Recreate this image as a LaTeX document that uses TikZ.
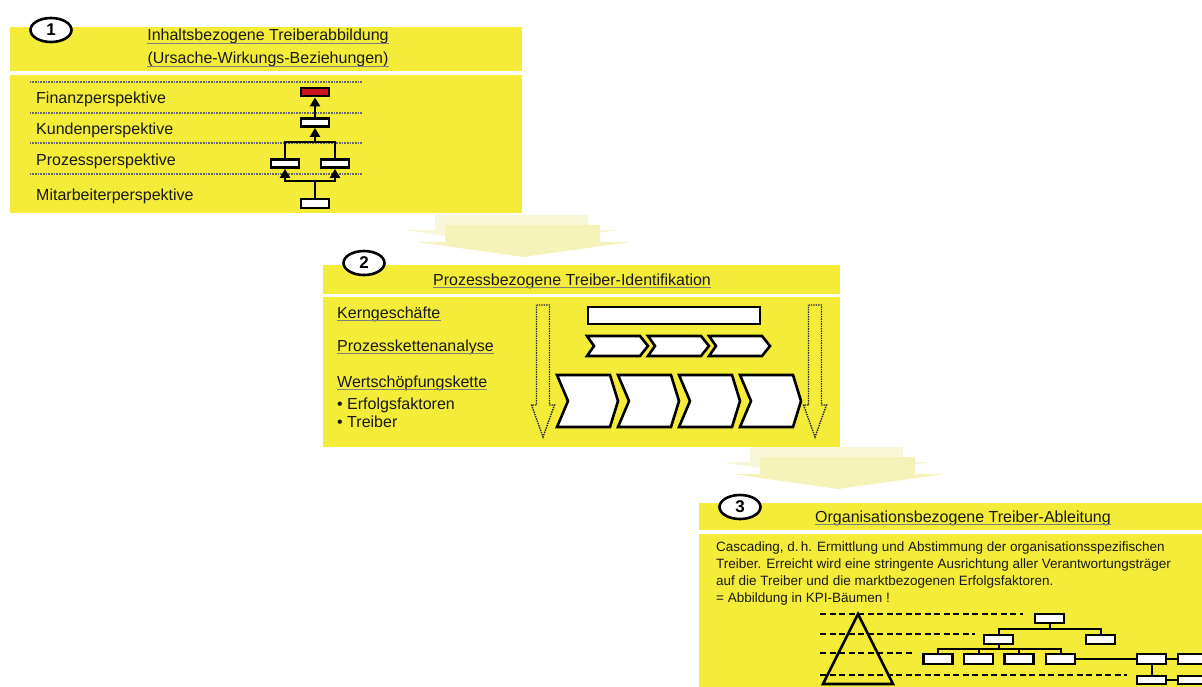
\documentclass[tikz,border=0pt]{standalone}
\usepackage{fontspec}
\setmainfont{Liberation Sans}
\usetikzlibrary{
    arrows.meta,
    shapes.geometric,
    positioning
}
\definecolor{panelyellow}{RGB}{245,236,58}
\definecolor{fadeback}{RGB}{249,247,218}
\definecolor{fadefront}{RGB}{245,242,186}
\definecolor{kpired}{RGB}{204,20,30}
\definecolor{ink}{RGB}{25,25,25}
\newcommand{\underl}[1]{\draw[ul] ([yshift=-2.5pt]#1.base west) -- ([yshift=-2.5pt]#1.base east);}

\tikzset{
    band/.style={fill=panelyellow},
    numc/.style={ellipse, draw=black, line width=2.6pt, fill=white,
        minimum width=41pt, minimum height=24pt, inner sep=0pt,
        font=\fontsize{17}{17}\selectfont\bfseries},
    lbl/.style={anchor=base west, inner sep=0pt, text=ink},
    ttl/.style={anchor=base, inner sep=0pt, text=ink},
    ul/.style={draw=gray, line width=1.1pt},
    pbox/.style={draw=black, line width=2.8pt, fill=white,
        minimum width=28pt, minimum height=8pt, inner sep=0pt},
    kbox/.style={draw=black, line width=2.4pt, fill=white,
        minimum width=29pt, minimum height=9pt, inner sep=0pt},
    perspline/.style={draw=gray!80!black, line width=1.3pt, dash pattern=on 1pt off 0.6pt},
    levelline/.style={draw=black, line width=2.8pt, dash pattern=on 6pt off 3.5pt},
    chev/.style={draw=black, line width=2.6pt, fill=white},
    hollowarrow/.style={draw=black!85, line width=1.4pt, densely dotted}
}

\begin{document}
\begin{tikzpicture}[x=1pt, y=-1pt, font=\fontsize{16}{19}\selectfont,
    >={Triangle[length=9pt,width=10pt]}]
    \useasboundingbox (0,0) rectangle (1202,687);

    % fading arrows between the steps
    \foreach \dx/\dy in {0/0, 315/232} {
        \begin{scope}[shift={(\dx,\dy)}]
            \fill[fadeback] (435,215) -- (588,215) -- (588,230) -- (618,230) -- (511,246) -- (405,230) -- (435,230) -- cycle;
            \fill[fadefront] (445,225) -- (600,225) -- (600,242) -- (630,242) -- (523,257) -- (417,242) -- (445,242) -- cycle;
        \end{scope}
    }

    % step 1
    \fill[band] (10,27) rectangle (522,71);
    \fill[band] (10,75) rectangle (522,213);
    \node[numc] (n1) at (51,30) {1};
    \node[ttl] (t1a) at (268,41) {Inhaltsbezogene Treiberabbildung};
    \node[ttl] (t1b) at (268,64) {(Ursache-Wirkungs-Beziehungen)};
    \underl{t1a}
    \underl{t1b}

    \foreach \y in {82, 113, 143, 174}
        \draw[perspline] (30,\y) -- (362,\y);

    \node[lbl] (fin-l) at (36,104) {Finanzperspektive};
    \node[lbl] (kun-l) at (36,135) {Kundenperspektive};
    \node[lbl] (pro-l) at (36,166) {Prozessperspektive};
    \node[lbl] (mit-l) at (36,201) {Mitarbeiterperspektive};

    \node[pbox, fill=kpired] (fin) at (315,92) {};
    \node[pbox] (kun) at (315,122.5) {};
    \node[pbox] (proL) at (285,163.5) {};
    \node[pbox] (proR) at (335,163.5) {};
    \node[pbox, minimum height=9pt] (mit) at (315,203.5) {};
    \coordinate (jp) at (315,142);
    \coordinate (jm) at (315,181);

    \draw[line width=2.4pt]
    (kun) edge[->] (fin)
    (jp) edge[->] (kun)
    (mit) edge (jm);
    \draw[line width=2.4pt] (proL.north) |- (jp) -| (proR.north);
    \draw[line width=2.4pt, ->] (jm) -| (proL.south);
    \draw[line width=2.4pt, ->] (jm) -| (proR.south);

    % step 2
    \fill[band] (323,265) rectangle (840,294);
    \fill[band] (323,297) rectangle (840,447);
    \node[numc] (n2) at (364,263) {2};
    \node[ttl] (t2) at (572,285) {Prozessbezogene Treiber-Identifikation};
    \underl{t2}

    \node[lbl] (kern) at (337,318) {Kerngeschäfte};
    \node[lbl] (pka) at (337,351) {Prozesskettenanalyse};
    \node[lbl] (wsk) at (337,387) {Wertschöpfungskette};
    \underl{kern}
    \underl{pka}
    \underl{wsk}
    \node[lbl] (erf) at (337,409) {\textbullet\ Erfolgsfaktoren};
    \node[lbl] (trb) at (337,427) {\textbullet\ Treiber};

    \foreach \x in {543, 815}
        \draw[hollowarrow] (\x-6.5,305) -- (\x+6.5,305) -- (\x+6.5,405) -- (\x+11.5,405)
            -- (\x,437) -- (\x-11.5,405) -- (\x-6.5,405) -- cycle;

    \node[draw=black, line width=2.6pt, fill=white, minimum width=172pt,
        minimum height=17pt, inner sep=0pt] (kbar) at (674,315.5) {};

    \foreach \i in {0,1,2} {
        \pgfmathsetmacro{\l}{587+61*\i}
        \draw[chev] (\l,336) -- (\l+53,336) -- (\l+61,346) -- (\l+53,356)
            -- (\l,356) -- (\l+7,346) -- cycle;
    }
    \foreach \i in {0,1,2,3} {
        \pgfmathsetmacro{\l}{557+61*\i}
        \draw[chev] (\l,375) -- (\l+53,375) -- (\l+61,401) -- (\l+53,427)
            -- (\l,427) -- (\l+11,401) -- cycle;
    }

    % step 3
    \fill[band] (699,503) rectangle (1202,530);
    \fill[band] (699,534) rectangle (1202,687);
    \node[numc] (n3) at (740,507) {3};
    \node[ttl] (t3) at (963,522) {Organisationsbezogene Treiber-Ableitung};
    \underl{t3}

    \node[anchor=north west, inner sep=0pt, align=left, text=ink,
        font=\fontsize{13.5}{17}\selectfont] (cas) at (716,542)
        {Cascading, d.\,h. Ermittlung und Abstimmung der organisationsspezifischen\\
         Treiber. Erreicht wird eine stringente Ausrichtung aller Verantwortungsträger\\
         auf die Treiber und die marktbezogenen Erfolgsfaktoren.\\
         = Abbildung in KPI-Bäumen !};

    \draw[levelline] (820,614) -- (1023,614);
    \draw[levelline] (820,634) -- (975,634);
    \draw[levelline] (820,653) -- (912,653);
    \draw[levelline] (820,675) -- (1127,675);
    \draw[line width=2.6pt, line join=miter] (858,614) -- (893,684) -- (823,684) -- cycle;

    \node[kbox] (k0) at (1049.5,618.3) {};
    \node[kbox] (k1a) at (998.5,639.3) {};
    \node[kbox] (k1b) at (1100.5,639.3) {};
    \node[kbox, minimum height=10pt] (k2a) at (938,659.2) {};
    \node[kbox, minimum height=10pt] (k2b) at (978.5,659.2) {};
    \node[kbox, minimum height=10pt] (k2c) at (1019,659.2) {};
    \node[kbox, minimum height=10pt] (k2d) at (1060.5,659.2) {};
    \node[kbox, minimum height=10pt] (r1) at (1151.5,659.2) {};
    \node[kbox, minimum height=10pt] (r2) at (1192.5,659.2) {};
    \node[kbox, minimum height=8pt] (r3) at (1151.5,679.7) {};
    \node[kbox, minimum height=8pt] (r4) at (1192.5,679.7) {};
    \coordinate (c0) at (1049.5,629);
    \coordinate (c1) at (998.5,649.3);

    \draw[line width=2pt]
    (k0) -- (c0)
    (c0) -| (k1a)
    (c0) -| (k1b)
    (k1a) -- (c1)
    (c1) -| (k2a)
    (c1) -| (k2d)
    (k2b) -- (k2b |- c1)
    (k2c) -- (k2c |- c1)
    (k2d) -- (r1)
    (r1) -- (r2)
    (r1) -- (r3)
    (r3) -- (r4);
\end{tikzpicture}
\end{document}
